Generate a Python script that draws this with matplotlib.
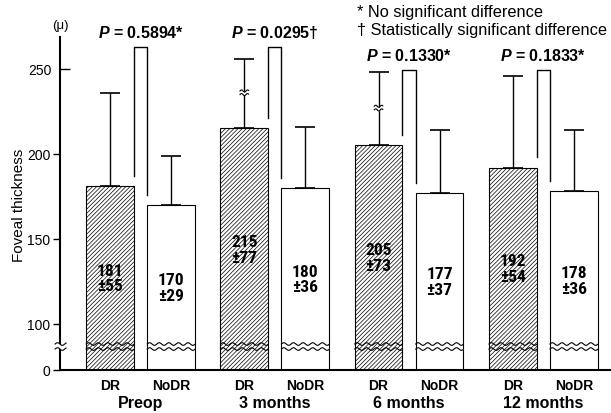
import numpy as np
import matplotlib
matplotlib.use("Agg")
import matplotlib.pyplot as plt
from matplotlib import font_manager

# data
groups = ["Preop", "3 months", "6 months", "12 months"]
dr_mean = [181, 215, 205, 192]
dr_sd = [55, 77, 73, 54]
nodr_mean = [170, 180, 177, 178]
nodr_sd = [29, 36, 37, 36]
# DR error bars that run off the top are cut and drawn shorter
dr_cap_drawn = [236, 256, 248, 246]
dr_cut_at = [None, 236, 227, None]
p_values = ["0.5894*", "0.0295\u2020", "0.1330*", "0.1833*"]
bracket_top = [263, 263, 249.5, 249.5]

names = {f.name for f in font_manager.fontManager.ttflist}
base_font = "Liberation Sans" if "Liberation Sans" in names else "DejaVu Sans"
narrow_font = base_font
for cand in ["Liberation Sans Narrow", "Roboto Condensed", "DejaVu Sans Condensed"]:
    if cand in names:
        narrow_font = cand
        break

plt.rcParams["font.family"] = [base_font, "DejaVu Sans"]
plt.rcParams["mathtext.fontset"] = "custom"
plt.rcParams["mathtext.bfit"] = base_font + ":italic:bold"
plt.rcParams["hatch.linewidth"] = 0.5

# broken y axis: 0-100 squeezed, 100+ linear
LOW = 72.94
K = (100 - LOW) / 100.0


def fwd(v):
    v = np.asarray(v, dtype=float)
    return np.where(v < 100, LOW + v * K, v)


def inv(y):
    y = np.asarray(y, dtype=float)
    return np.where(y < 100, (y - LOW) / K, y)


PX_Y = 1.7   # pixels per scaled y unit
PX_X = 61.0  # pixels per x unit

fig = plt.figure(figsize=(6.11, 4.14), dpi=100)
ax = fig.add_axes([60 / 611, 1 - 371 / 414, 551 / 611, 333 / 414])
ax.set_yscale("function", functions=(fwd, inv))

width = 0.78
xg = np.arange(len(groups)) * 2.2
x_dr = xg
x_nodr = xg + 1

ax.bar(x_dr, dr_mean, width, bottom=0, color="white", edgecolor="black",
       hatch="////////", linewidth=0.8, zorder=2)
ax.bar(x_nodr, nodr_mean, width, bottom=0, color="white", edgecolor="black",
       linewidth=0.8, zorder=2)

dr_up = np.array(dr_cap_drawn) - np.array(dr_mean)
ax.errorbar(x_dr, dr_mean, yerr=[np.zeros(4), dr_up], fmt="none",
            ecolor="black", elinewidth=1, capsize=7.5, capthick=1.2, zorder=1)
ax.errorbar(x_nodr, nodr_mean, yerr=[np.zeros(4), nodr_sd], fmt="none",
            ecolor="black", elinewidth=1, capsize=7.5, capthick=1.2, zorder=1)


def wave(x0, x1, yc, gap_px=2.5, amp_px=1.3, period_px=9.6, fill=True):
    xs = np.linspace(x0, x1, 80)
    ph = (xs - x0) * PX_X / period_px * 2 * np.pi
    yc_s = float(fwd(yc))
    lines = []
    for off in (-gap_px, gap_px):
        ys = inv(yc_s + (off + amp_px * np.sin(ph)) / PX_Y)
        lines.append(ys)
    if fill:
        ax.fill_between(xs, lines[0], lines[1], color="white", zorder=3,
                        clip_on=False, linewidth=0)
    for ys in lines:
        ax.plot(xs, ys, color="black", lw=0.8, zorder=4, clip_on=False)


# break lines across every bar and the y axis
for x in np.concatenate([x_dr, x_nodr]):
    wave(x - width / 2, x + width / 2, 51, fill=False)
wave(-0.9, -0.72, 51)

# breaks on the cut error bars
for x, c in zip(x_dr, dr_cut_at):
    if c is not None:
        wave(x - 0.07, x + 0.07, c, gap_px=1.8, amp_px=1.0, period_px=6)

# P-value brackets
for i in range(len(groups)):
    xl = x_dr[i] + width / 2
    xr = x_nodr[i] - width / 2
    top = bracket_top[i]
    ax.plot([xl, xl, xr, xr], [dr_mean[i] + 6, top, top, nodr_mean[i] + 6],
            color="black", lw=1, zorder=2)
    ax.text((xl + xr) / 2, top + 4, r"$\mathbfit{P}$ = " + p_values[i],
            ha="center", va="bottom", fontsize=11.5, fontweight="bold")

# value labels inside the bars
for x, m, s in zip(x_dr, dr_mean, dr_sd):
    yt = float(inv((LOW + m) / 2))
    ax.text(x, yt, f"{m}\n\u00b1{s}", ha="center", va="center", fontsize=12.5,
            fontweight="bold", family=narrow_font, linespacing=1.05, zorder=5)
for x, m, s in zip(x_nodr, nodr_mean, nodr_sd):
    yt = float(inv((LOW + m) / 2))
    ax.text(x, yt, f"{m}\n\u00b1{s}", ha="center", va="center", fontsize=12.5,
            fontweight="bold", family=narrow_font, linespacing=1.05, zorder=5)

ax.set_xlim(-0.82, 8.21)
ax.set_ylim(0, 268.8)

ax.set_yticks([0, 100, 150, 200])
ax.set_yticks([250], minor=True)
ax.set_yticklabels(["0", "100", "150", "200"], minor=False)
ax.set_yticklabels(["250"], minor=True)
ax.tick_params(axis="y", which="major", direction="out", length=5, width=1,
               labelsize=10, pad=2)
ax.tick_params(axis="y", which="minor", direction="in", length=7, width=1,
               labelsize=10, pad=6)
ax.set_xticks(np.concatenate([x_dr, x_nodr]))
ax.set_xticklabels(["DR"] * 4 + ["NoDR"] * 4, fontweight="bold", fontsize=10)
ax.tick_params(axis="x", length=0, pad=6)

for sp in ["top", "right"]:
    ax.spines[sp].set_visible(False)
ax.spines["left"].set_linewidth(1.5)
ax.spines["bottom"].set_linewidth(1.5)

for x, g in zip(xg + 0.5, groups):
    ax.text(x, -0.098, g, transform=ax.get_xaxis_transform(), ha="center",
            va="center", fontsize=11.5, fontweight="bold")

ax.text(0, 1.035, "(\u03bc)", transform=ax.transAxes, ha="center",
        va="center", fontsize=9.5)
fig.text(19 / 611, 1 - 205 / 414, "Foveal thickness", rotation=90,
         ha="center", va="center", fontsize=11)
fig.text(357 / 611, 1 - 12 / 414, "* No significant difference",
         ha="left", va="center", fontsize=11.8)
fig.text(357 / 611, 1 - 31 / 414, "\u2020 Statistically significant difference",
         ha="left", va="center", fontsize=11.8)

fig.savefig("out.png", dpi=100)
